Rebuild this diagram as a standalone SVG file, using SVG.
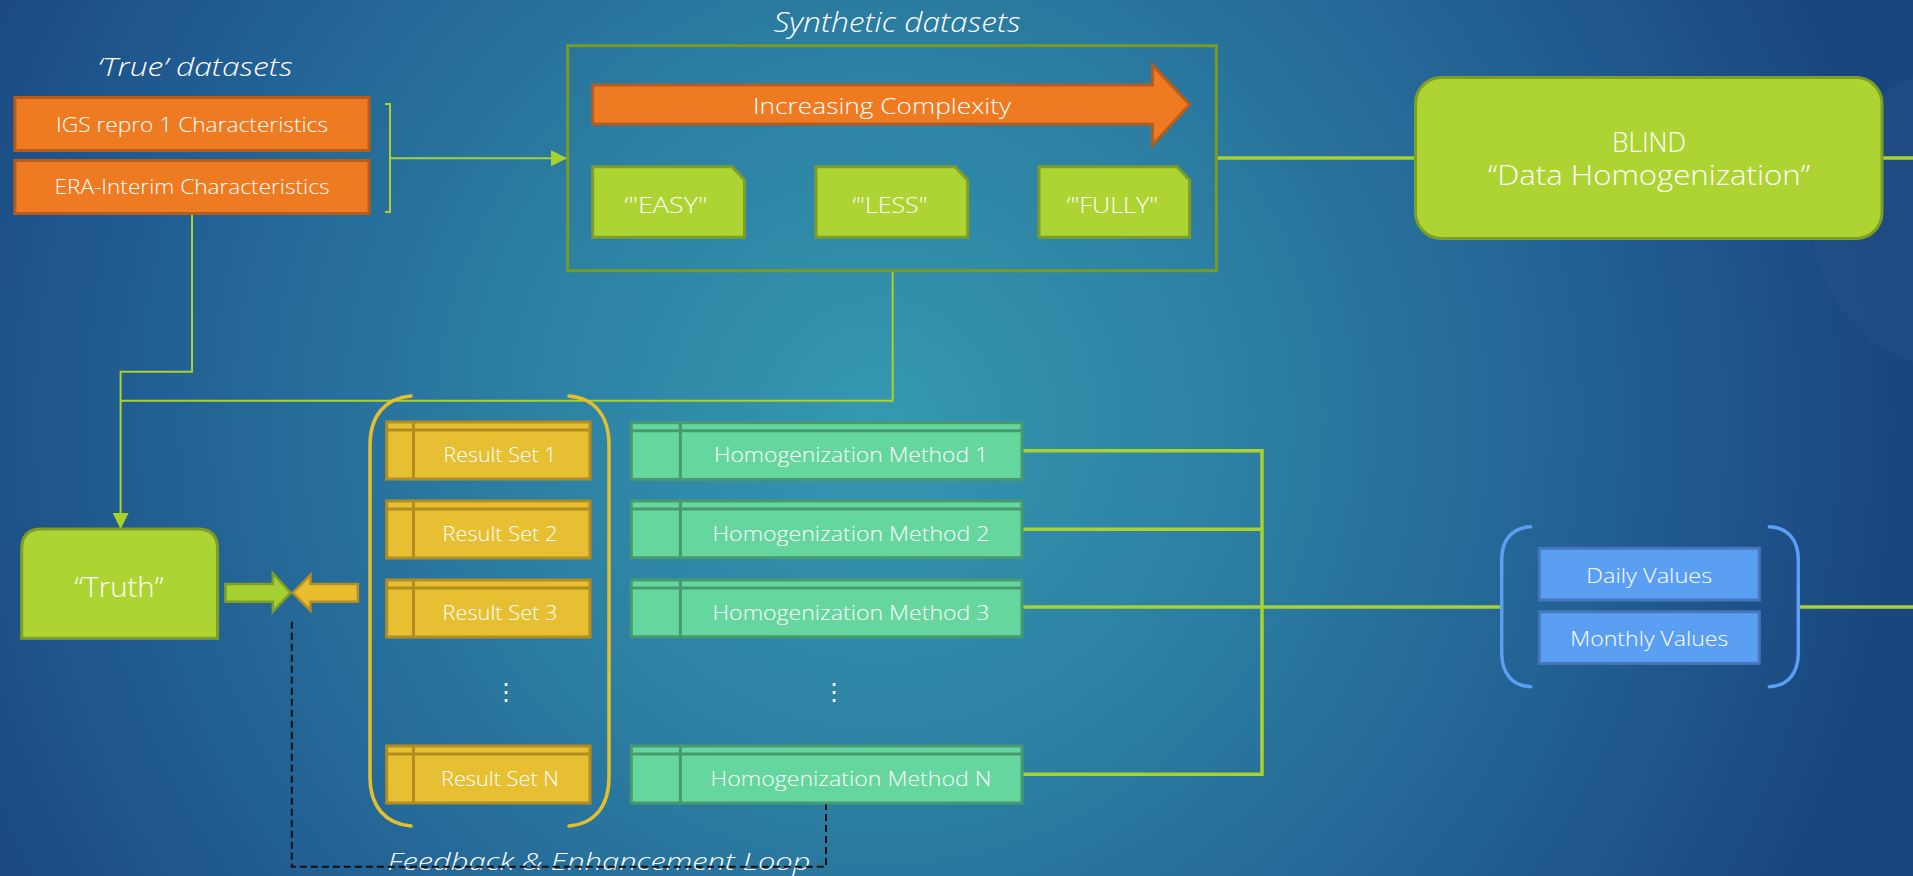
<svg xmlns="http://www.w3.org/2000/svg" width="1913" height="876" viewBox="0 0 1913 876">
  <defs>
    <radialGradient id="bg" gradientUnits="userSpaceOnUse" cx="880" cy="420" r="1020">
      <stop offset="0" stop-color="#3598b0"/>
      <stop offset="0.35" stop-color="#2c80a3"/>
      <stop offset="0.75" stop-color="#215c91"/>
      <stop offset="1" stop-color="#1a467f"/>
    </radialGradient>
    <marker id="tri" viewBox="0 0 10 10" refX="10" refY="5" markerWidth="16" markerHeight="16" markerUnits="userSpaceOnUse" orient="auto">
      <path d="M0,0 L10,5 L0,10 Z" fill="#a9d22c"/>
    </marker>
    <style>
      .t { font-family: "Open Sans", "Liberation Sans", sans-serif; fill: #ffffff; text-anchor: middle; font-weight: 300; }
      .it { font-style: italic; }
      .orange { fill: #ee7b22; stroke: #b85c1e; stroke-width: 3; }
      .lime { fill: #add433; stroke: #7f9e25; stroke-width: 3; }
      .frame { fill: none; stroke: #7b9a22; stroke-width: 3; }
      .yel { fill: #e6c032; stroke: #b38d20; stroke-width: 3; }
      .yel-line { fill: none; stroke: #b38d20; stroke-width: 3; }
      .mint { fill: #64d69e; stroke: #479a6e; stroke-width: 3; }
      .mint-line { fill: none; stroke: #479a6e; stroke-width: 3; }
      .blue { fill: #5b9ff2; stroke: #4676bf; stroke-width: 3; }
      .thin { fill: none; stroke: #a9d22c; stroke-width: 2; }
      .thick { fill: none; stroke: #a9d22c; stroke-width: 3.5; }
      .paren-y { fill: none; stroke: #e5be2e; stroke-width: 3.5; stroke-linecap: round; }
      .paren-b { fill: none; stroke: #5b9ff2; stroke-width: 3.5; stroke-linecap: round; }
      .dash { fill: none; stroke: #111111; stroke-width: 2; stroke-dasharray: 7 4; }
    </style>
  </defs>

  <!-- background -->
  <rect width="1913" height="876" fill="url(#bg)"/>
  <circle cx="1962" cy="220" r="150" fill="#ffffff" fill-opacity="0.025"/>

  <!-- captions -->
  <text class="t it" x="195" y="76" font-size="25" textLength="195" lengthAdjust="spacingAndGlyphs">‘True’ datasets</text>
  <text class="t it" x="897" y="32" font-size="27" textLength="247" lengthAdjust="spacingAndGlyphs">Synthetic datasets</text>
  <text class="t it" x="599" y="870" font-size="23" textLength="423" lengthAdjust="spacingAndGlyphs">Feedback &amp; Enhancement Loop</text>

  <!-- connectors -->
  <g id="connectors">
    <path class="thin" d="M385,104 H390 V212 H385"/>
    <path class="thin" d="M390,158.3 H567" marker-end="url(#tri)"/>
    <path class="thin" d="M192,214 V371.7 H120.6 V529" marker-end="url(#tri)"/>
    <path class="thin" d="M120.6,400.7 H892.7 V271"/>
    <path class="thick" d="M1217,158 H1415"/>
    <path class="thick" d="M1882,158 H1913"/>
    <path class="thick" d="M1022,450.7 H1262 V774.3 H1022"/>
    <path class="thick" d="M1022,529.3 H1262"/>
    <path class="thick" d="M1022,607 H1501.7"/>
    <path class="thick" d="M1798.3,607 H1913"/>
    <path class="dash" d="M291.8,621.7 V866.7 H826 V803"/>
  </g>

  <!-- true datasets -->
  <g id="igs">
    <rect class="orange" x="15" y="97.5" width="354" height="53"/>
    <text class="t" x="192" y="131.7" font-size="20.5" textLength="272" lengthAdjust="spacingAndGlyphs">IGS repro 1 Characteristics</text>
  </g>
  <g id="era">
    <rect class="orange" x="15" y="160.5" width="354" height="53"/>
    <text class="t" x="192" y="194.3" font-size="20.5" textLength="275" lengthAdjust="spacingAndGlyphs">ERA-Interim Characteristics</text>
  </g>

  <!-- synthetic datasets -->
  <g id="synthetic">
    <rect class="frame" x="567.7" y="45.7" width="648.7" height="225"/>
  </g>
  <g id="complexity">
    <path class="orange" d="M592.7,85 H1152.5 V65 L1189.6,104.5 L1152.5,145 V124 H592.7 Z"/>
    <text class="t" x="882" y="114" font-size="22.5" textLength="258" lengthAdjust="spacingAndGlyphs">Increasing Complexity</text>
  </g>
  <g id="easy">
    <path class="lime" d="M592.7,166.7 H732 L744.5,180 V237.3 H592.7 Z"/>
    <text class="t" x="666" y="213" font-size="22" textLength="83" lengthAdjust="spacingAndGlyphs">‘"EASY"</text>
  </g>
  <g id="less">
    <path class="lime" d="M816,166.7 H955 L967.7,180 V237.3 H816 Z"/>
    <text class="t" x="890" y="213" font-size="22" textLength="75" lengthAdjust="spacingAndGlyphs">‘"LESS"</text>
  </g>
  <g id="fully">
    <path class="lime" d="M1039,166.7 H1177 L1189.6,180 V237.3 H1039 Z"/>
    <text class="t" x="1112.5" y="213" font-size="22" textLength="91.5" lengthAdjust="spacingAndGlyphs">‘"FULLY"</text>
  </g>

  <!-- blind homogenization -->
  <g id="blind">
    <rect class="lime" x="1415.5" y="77.5" width="466.5" height="161" rx="26" ry="26"/>
    <text class="t" x="1649" y="151.7" font-size="27" textLength="74" lengthAdjust="spacingAndGlyphs">BLIND</text>
    <text class="t" x="1649" y="185" font-size="27" textLength="322" lengthAdjust="spacingAndGlyphs">“Data Homogenization”</text>
  </g>

  <!-- truth -->
  <g id="truth">
    <path class="lime" d="M21.7,638.3 V549 Q21.7,529 41.7,529 H197.5 Q217.5,529 217.5,549 V638.3 Z"/>
    <text class="t" x="119" y="597.3" font-size="27" textLength="89" lengthAdjust="spacingAndGlyphs">“Truth”</text>
  </g>
  <g id="compare">
    <path d="M225.4,584 H272.8 V573.3 L290.6,592.7 L272.8,611.7 V601.7 H225.4 Z" fill="#a6cf31" stroke="#7f9e25" stroke-width="2.5"/>
    <path d="M357.9,584 H310.4 V575 L292.6,592.7 L310.4,610.5 V601.7 H357.9 Z" fill="#e8be30" stroke="#b48e22" stroke-width="2.5"/>
  </g>

  <!-- result sets -->
  <g id="results-bracket">
    <path class="paren-y" d="M411,396 C386,398 370,415 370,445 V777 C370,807 386,824 411,826"/>
    <path class="paren-y" d="M569,396 C594,398 609,415 609,445 V777 C609,807 594,824 569,826"/>
  </g>
  <g id="result1">
    <rect class="yel" x="386.7" y="422" width="203.3" height="57"/>
    <path class="yel-line" d="M386.7,430 H590 M413.5,422 V479"/>
    <text class="t" x="500" y="461.7" font-size="20" textLength="113" lengthAdjust="spacingAndGlyphs">Result Set 1</text>
  </g>
  <g id="result2">
    <rect class="yel" x="386.7" y="501" width="203.3" height="57"/>
    <path class="yel-line" d="M386.7,509 H590 M413.5,501 V558"/>
    <text class="t" x="500" y="541" font-size="20" textLength="115" lengthAdjust="spacingAndGlyphs">Result Set 2</text>
  </g>
  <g id="result3">
    <rect class="yel" x="386.7" y="580" width="203.3" height="57"/>
    <path class="yel-line" d="M386.7,588 H590 M413.5,580 V637"/>
    <text class="t" x="500" y="619.7" font-size="20" textLength="115" lengthAdjust="spacingAndGlyphs">Result Set 3</text>
  </g>
  <g id="result-dots">
    <text class="t" x="506" y="700" font-size="24" font-family="DejaVu Sans">⋮</text>
  </g>
  <g id="resultN">
    <rect class="yel" x="386.7" y="746" width="203.3" height="57"/>
    <path class="yel-line" d="M386.7,754 H590 M413.5,746 V803"/>
    <text class="t" x="500" y="786" font-size="20" textLength="118" lengthAdjust="spacingAndGlyphs">Result Set N</text>
  </g>

  <!-- homogenization methods -->
  <g id="method1">
    <rect class="mint" x="631.3" y="422.7" width="390.7" height="56.7"/>
    <path class="mint-line" d="M631.3,430.7 H1022 M680.4,422.7 V479.4"/>
    <text class="t" x="851" y="461.7" font-size="20" textLength="274" lengthAdjust="spacingAndGlyphs">Homogenization Method 1</text>
  </g>
  <g id="method2">
    <rect class="mint" x="631.3" y="501" width="390.7" height="56.7"/>
    <path class="mint-line" d="M631.3,509 H1022 M680.4,501 V557.7"/>
    <text class="t" x="851" y="540.5" font-size="20" textLength="277" lengthAdjust="spacingAndGlyphs">Homogenization Method 2</text>
  </g>
  <g id="method3">
    <rect class="mint" x="631.3" y="580" width="390.7" height="56.7"/>
    <path class="mint-line" d="M631.3,588 H1022 M680.4,580 V636.7"/>
    <text class="t" x="851" y="619.5" font-size="20" textLength="277" lengthAdjust="spacingAndGlyphs">Homogenization Method 3</text>
  </g>
  <g id="method-dots">
    <text class="t" x="834.4" y="700" font-size="24" font-family="DejaVu Sans">⋮</text>
  </g>
  <g id="methodN">
    <rect class="mint" x="631.3" y="746" width="390.7" height="57"/>
    <path class="mint-line" d="M631.3,754 H1022 M680.4,746 V803"/>
    <text class="t" x="851" y="786" font-size="20" textLength="281" lengthAdjust="spacingAndGlyphs">Homogenization Method N</text>
  </g>

  <!-- output resolutions -->
  <g id="values-bracket">
    <path class="paren-b" d="M1530.7,526.7 C1512,527.5 1501.7,540 1501.7,560 V653 C1501.7,673 1512,685.8 1530.7,686.7"/>
    <path class="paren-b" d="M1769.3,526.7 C1788,527.5 1798.3,540 1798.3,560 V653 C1798.3,673 1788,685.8 1769.3,686.7"/>
  </g>
  <g id="daily">
    <rect class="blue" x="1539.3" y="548.3" width="220" height="51.7"/>
    <text class="t" x="1649.3" y="582.7" font-size="20" textLength="126" lengthAdjust="spacingAndGlyphs">Daily Values</text>
  </g>
  <g id="monthly">
    <rect class="blue" x="1539.3" y="611.7" width="220" height="51.7"/>
    <text class="t" x="1649.3" y="646" font-size="20" textLength="158" lengthAdjust="spacingAndGlyphs">Monthly Values</text>
  </g>
</svg>
